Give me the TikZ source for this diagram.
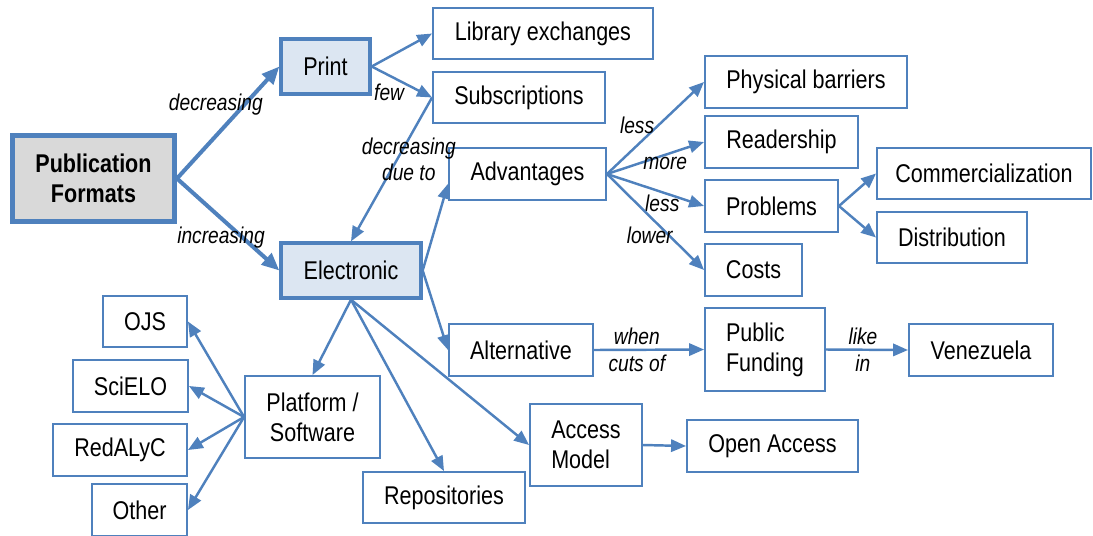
\documentclass[tikz,border=0pt]{standalone}
\usepackage{fontspec}
\setmainfont{Liberation Sans}[FakeStretch=0.84]
\usetikzlibrary{arrows.meta}
\definecolor{edgeblue}{RGB}{79,129,189}
\definecolor{fillblue}{RGB}{220,230,242}
\definecolor{rootgray}{RGB}{217,217,217}
\tikzset{
  box/.style={draw=edgeblue,line width=1.1pt,inner sep=0pt,font=\fontsize{14.6}{17}\selectfont},
  main/.style={box,line width=1.9pt,fill=fillblue},
  root/.style={box,line width=2.8pt,fill=rootgray,font=\fontsize{14.6}{17}\selectfont\bfseries},
  sz/.style 2 args={minimum width=#1*0.02cm,minimum height=#2*0.02cm},
  conn/.style={draw=edgeblue,line width=1.4pt,-{Triangle[length=8.5pt,width=7pt]}},
  thickconn/.style={conn,line width=2.3pt,-{Triangle[length=10pt,width=8.5pt]}},
  lbl/.style={font=\fontsize{13}{15}\selectfont\itshape,inner sep=0pt,align=center},
}
\begin{document}
\begin{tikzpicture}[x=0.02cm,y=-0.02cm]
    \useasboundingbox (0,0) rectangle (1093,535);
    \node[root,sz={162}{86},align=center](pf)at(93.5,178.5){Publication\\Formats};
    \node[main,sz={89}{55}](print)at(325.5,66.5){Print};
    \node[main,sz={140}{55}](elec)at(351,270.5){Electronic};
    \node[box,sz={220}{51}](lib)at(543,33.5){Library exchanges};
    \node[box,sz={172}{51}](subs)at(519,97.5){Subscriptions};
    \node[box,sz={157}{52}](adv)at(527.5,174){Advantages};
    \node[box,sz={202}{52}](phys)at(806,82){Physical barriers};
    \node[box,sz={153}{52}](read)at(781.5,142){Readership};
    \node[box,sz={133}{52}](prob)at(771.5,206){Problems};
    \node[box,sz={97}{52}](costs)at(753.5,270){Costs};
    \node[box,sz={214}{51}](comm)at(984,173.5){Commercialization};
    \node[box,sz={150}{51}](dist)at(952,237.5){Distribution};
    \node[box,sz={144}{52}](alt)at(521,350){Alternative};
    \node[box,sz={120}{83},align=left](pubf)at(765,349.5){Public\\Funding};
    \node[box,sz={144}{52}](ven)at(981,350){Venezuela};
    \node[box,sz={112}{82},align=left](acc)at(586,445){Access\\Model};
    \node[box,sz={171}{52}](open)at(772.5,446){Open Access};
    \node[box,sz={162}{51}](repo)at(444,497.5){Repositories};
    \node[box,sz={135}{82},align=center](plat)at(312.5,417){Platform /\\Software};
    \node[box,sz={84}{51}](ojs)at(145,321.5){OJS};
    \node[box,sz={115}{52}](sci)at(130.5,386){SciELO};
    \node[box,sz={134}{52}](red)at(120,450){RedALyC};
    \node[box,sz={95}{52}](other)at(139.5,510){Other};
    \draw[thickconn] (pf.east) -- (print.west) node[lbl,pos=.38,yshift=18pt]{decreasing};
    \draw[thickconn] (pf.east) -- (elec.west) node[lbl,pos=.43,yshift=-11pt]{increasing};
    \draw[conn] (print.east) -- (lib.west);
    \draw[conn] (print.east) -- (subs.west) node[lbl,pos=.29,yshift=-9.5pt]{few};
    \draw[conn] (subs.west) -- (elec.north) node[lbl,pos=.43,xshift=6.6pt]{decreasing\\due to};
    \draw[conn] (elec.east) -- (adv.187);
    \draw[conn] (elec.east) -- (alt.west);
    \draw[conn] (elec.south) -- (plat.north);
    \draw[conn] (elec.south) -- (repo.north);
    \draw[conn] (elec.south) -- (acc.west);
    \draw[conn] (adv.east) -- (phys.west) node[lbl,pos=.31,yshift=11.5pt]{less};
    \draw[conn] (adv.east) -- (read.west) node[lbl,pos=.6,yshift=-5pt]{more};
    \draw[conn] (adv.east) -- (prob.west) node[lbl,pos=.57,yshift=-6.2pt]{less};
    \draw[conn] (adv.east) -- (costs.west) node[lbl,pos=.44,yshift=-11pt]{lower};
    \draw[conn] (prob.east) -- (comm.west);
    \draw[conn] (prob.east) -- (dist.west);
    \draw[conn] (alt.east) -- (pubf.west) node[lbl,pos=.39]{when\\cuts of};
    \draw[conn] (pubf.east) -- (ven.west) node[lbl,pos=.45]{like\\in};
    \draw[conn] (acc.east) -- (open.west);
    \draw[conn] (plat.west) -- (ojs.east);
    \draw[conn] (plat.west) -- (sci.east);
    \draw[conn] (plat.west) -- (red.east);
    \draw[conn] (plat.west) -- (other.east);
\end{tikzpicture}
\end{document}
